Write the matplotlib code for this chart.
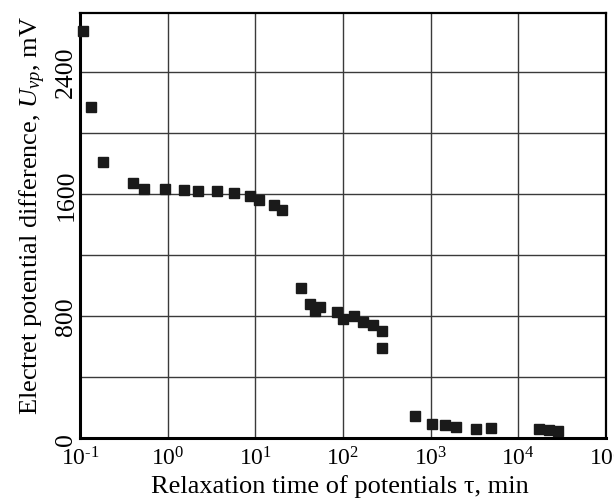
import matplotlib
matplotlib.use("Agg")
import matplotlib.pyplot as plt
from matplotlib.ticker import FixedLocator, NullFormatter

plt.rcParams['font.family'] = ['Liberation Serif', 'DejaVu Serif']
plt.rcParams['mathtext.fontset'] = 'custom'
plt.rcParams['mathtext.rm'] = 'Liberation Serif'
plt.rcParams['mathtext.it'] = 'Liberation Serif:italic'

# Relaxation time (min) and electret potential difference (mV)
tau_min = [0.108, 0.134, 0.182, 0.398, 0.540, 0.938, 1.53, 2.21, 3.69, 5.75,
           8.58, 10.9, 16.4, 20.0, 32.8, 41.8, 47.6, 55.2, 85.9, 100,
           134, 167, 222, 276, 281, 658, 1026, 1452, 1963, 3273, 4874,
           17350, 22480, 28400]
u_vp_mv = [2668, 2171, 1809, 1669, 1632, 1632, 1626, 1617, 1621, 1606,
           1588, 1562, 1527, 1497, 982, 879, 835, 858, 829, 781,
           799, 759, 742, 704, 589, 148, 94, 89, 76, 63, 67,
           61, 56, 50]

x_ticks = [1e-1, 1e0, 1e1, 1e2, 1e3, 1e4, 1e5]
x_tick_labels = [r'$10^{\text{-}1}$', r'$10^{0}$', r'$10^{1}$', r'$10^{2}$',
                 r'$10^{3}$', r'$10^{4}$', r'$10^{5}$']
y_ticks = [0, 800, 1600, 2400]
y_grid = [400, 1200, 2000]

fig = plt.figure(figsize=(6.14, 5.02), dpi=100)
ax = fig.add_axes([0.1303, 0.1249, 0.8567, 0.8472])

ax.set_xscale('log')
ax.set_xlim(1e-1, 1e5)
ax.set_ylim(0, 2784)

ax.xaxis.set_major_locator(FixedLocator(x_ticks))
ax.xaxis.set_minor_locator(FixedLocator([]))
ax.set_xticklabels(x_tick_labels)
ax.yaxis.set_major_locator(FixedLocator(y_ticks))
ax.yaxis.set_minor_locator(FixedLocator(y_grid))
ax.yaxis.set_minor_formatter(NullFormatter())
ax.set_yticklabels([str(v) for v in y_ticks], rotation=90, va='center')

ax.grid(True, which='both', color='#3a3a3a', linewidth=1.0)
ax.set_axisbelow(True)
ax.tick_params(which='both', length=0)
ax.tick_params(axis='x', labelsize=17, pad=6)
ax.tick_params(axis='y', labelsize=18.5, pad=2)

for side in ('left', 'bottom'):
    ax.spines[side].set_linewidth(2.2)
for side in ('top', 'right'):
    ax.spines[side].set_linewidth(1.6)

ax.plot(tau_min, u_vp_mv, linestyle='none', marker='s', markersize=7.6,
        color='#1a1a1a', clip_on=False, zorder=3)

ax.set_xlabel(r'Relaxation time of potentials τ, min', fontsize=19)
ax.set_ylabel(r'Electret potential difference, $U_{vp}$, mV', fontsize=19)
ax.xaxis.set_label_coords(0.494, -0.085)
ax.yaxis.set_label_coords(-0.06, 0.526)

fig.savefig('out.png', dpi=100)
